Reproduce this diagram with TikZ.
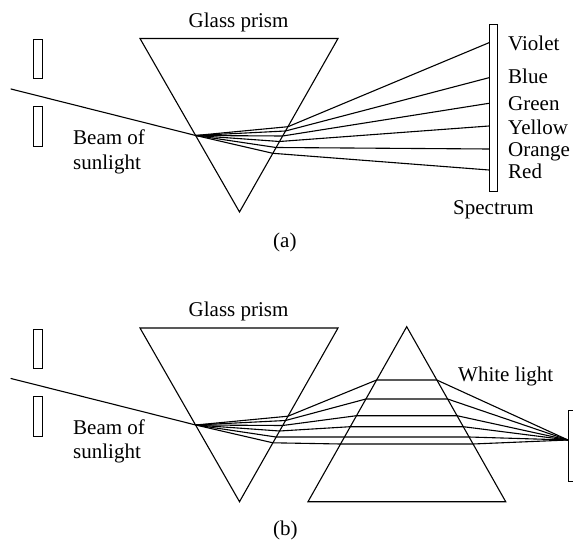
\documentclass[tikz,border=0pt]{standalone}
\usepackage{fontspec}
\setmainfont{Liberation Serif}
\usetikzlibrary{positioning}
\begin{document}
\begin{tikzpicture}[x=1pt,y=-1pt]
\tikzset{
  prismedge/.style={draw=black,line width=1.1pt,line join=miter},
  lightray/.style={draw=black,line width=1.1pt,line cap=round},
  slitbox/.style={draw=black,line width=1pt},
  caption/.style={inner sep=0pt,anchor=base west,font=\fontsize{21}{24}\selectfont}
}
\useasboundingbox (0,0) rectangle (573,540);
% part a
\coordinate (a_tl) at (140,38.5);
\coordinate (a_tr) at (338,38.5);
\coordinate (a_ap) at (239.5,212);
\coordinate (a_src) at (11,89);
\coordinate (a_in) at (195.7,135.5);
\coordinate (a_x_v) at (288,126.7);
\coordinate (a_x_b) at (285.5,131);
\coordinate (a_x_g) at (282.6,136);
\coordinate (a_x_y) at (279.5,141.5);
\coordinate (a_x_o) at (276,147.5);
\coordinate (a_x_r) at (272.8,153.3);
\coordinate (a_s_v) at (489,42.7);
\coordinate (a_s_b) at (489,77.7);
\coordinate (a_s_g) at (489,103.3);
\coordinate (a_s_y) at (489,126);
\coordinate (a_s_o) at (489,149);
\coordinate (a_s_r) at (489,170);
\coordinate (a_sl1) at (33.5,40);
\coordinate (a_sl2) at (42.5,79);
\coordinate (a_sl3) at (33.5,107);
\coordinate (a_sl4) at (42.5,147);
\coordinate (a_sp1) at (489,24.7);
\coordinate (a_sp2) at (497.3,191.7);
\draw[prismedge] (a_tl) -- (a_tr) -- (a_ap) -- cycle;
\draw[slitbox] (a_sl1) rectangle (a_sl2);
\draw[slitbox] (a_sl3) rectangle (a_sl4);
\draw[slitbox] (a_sp1) rectangle (a_sp2);
\draw[lightray] (a_src) -- (a_in);
\draw[lightray] (a_in) -- (a_x_v) -- (a_s_v);
\draw[lightray] (a_in) -- (a_x_b) -- (a_s_b);
\draw[lightray] (a_in) -- (a_x_g) -- (a_s_g);
\draw[lightray] (a_in) -- (a_x_y) -- (a_s_y);
\draw[lightray] (a_in) -- (a_x_o) -- (a_s_o);
\draw[lightray] (a_in) -- (a_x_r) -- (a_s_r);
\node[caption] (a_prism) at (188.5,27.5) {Glass prism};
\node[caption] (a_beam) at (73,145) {Beam of};
\node[caption] (a_sun) at (73,169.3) {sunlight};
\node[caption] (a_violet) at (508,50.3) {Violet};
\node[caption] (a_blue) at (508,83.7) {Blue};
\node[caption] (a_green) at (508,110.3) {Green};
\node[caption] (a_yellow) at (508,134.3) {Yellow};
\node[caption] (a_orange) at (508,156.3) {Orange};
\node[caption] (a_red) at (508,178.3) {Red};
\node[caption] (a_spec) at (453,215) {Spectrum};
\node[caption] (a_tag) at (273,247.5) {(a)};
% part b
\coordinate (b_tl) at (140,328);
\coordinate (b_tr) at (338,328);
\coordinate (b_ap) at (239.5,501.7);
\coordinate (b_src) at (11,378.5);
\coordinate (b_in) at (195.7,425);
\coordinate (b_x_1) at (288,416.2);
\coordinate (b_x_2) at (285.5,420.5);
\coordinate (b_x_3) at (282.6,425.5);
\coordinate (b_x_4) at (279.5,431);
\coordinate (b_x_5) at (276,437);
\coordinate (b_x_6) at (272.8,442.8);
\coordinate (c_ap) at (406.7,326.7);
\coordinate (c_bl) at (308,501.7);
\coordinate (c_br) at (505.7,501.7);
\coordinate (c_l_1) at (376.6,380);
\coordinate (c_l_2) at (365.9,399);
\coordinate (c_l_3) at (356.5,415.7);
\coordinate (c_l_4) at (350.3,426.7);
\coordinate (c_l_5) at (344.5,437);
\coordinate (c_l_6) at (340.5,444);
\coordinate (c_r_1) at (436.8,380);
\coordinate (c_r_2) at (447.6,399);
\coordinate (c_r_3) at (457,415.7);
\coordinate (c_r_4) at (463.3,426.7);
\coordinate (c_r_5) at (469,437);
\coordinate (c_r_6) at (473,444);
\coordinate (b_focus) at (568,440);
\coordinate (b_sl1) at (33.5,329.5);
\coordinate (b_sl2) at (42.5,368.5);
\coordinate (b_sl3) at (33.5,396.5);
\coordinate (b_sl4) at (42.5,436.5);
\coordinate (b_sc1) at (573,410);
\coordinate (b_sc2) at (568,410);
\coordinate (b_sc3) at (568,481.7);
\coordinate (b_sc4) at (573,481.7);
\draw[prismedge] (b_tl) -- (b_tr) -- (b_ap) -- cycle;
\draw[prismedge] (c_ap) -- (c_br) -- (c_bl) -- cycle;
\draw[slitbox] (b_sl1) rectangle (b_sl2);
\draw[slitbox] (b_sl3) rectangle (b_sl4);
\draw[slitbox] (b_sc1) -- (b_sc2) -- (b_sc3) -- (b_sc4);
\draw[lightray] (b_src) -- (b_in);
\draw[lightray] (b_in) -- (b_x_1) -- (c_l_1) -- (c_r_1) -- (b_focus);
\draw[lightray] (b_in) -- (b_x_2) -- (c_l_2) -- (c_r_2) -- (b_focus);
\draw[lightray] (b_in) -- (b_x_3) -- (c_l_3) -- (c_r_3) -- (b_focus);
\draw[lightray] (b_in) -- (b_x_4) -- (c_l_4) -- (c_r_4) -- (b_focus);
\draw[lightray] (b_in) -- (b_x_5) -- (c_l_5) -- (c_r_5) -- (b_focus);
\draw[lightray] (b_in) -- (b_x_6) -- (c_l_6) -- (c_r_6) -- (b_focus);
\node[caption] (b_prism) at (188.5,316.5) {Glass prism};
\node[caption] (b_beam) at (73,434.5) {Beam of};
\node[caption] (b_sun) at (73,458.8) {sunlight};
\node[caption] (b_white) at (458,381.2) {White light};
\node[caption] (b_tag) at (273,535.5) {(b)};
\end{tikzpicture}
\end{document}
